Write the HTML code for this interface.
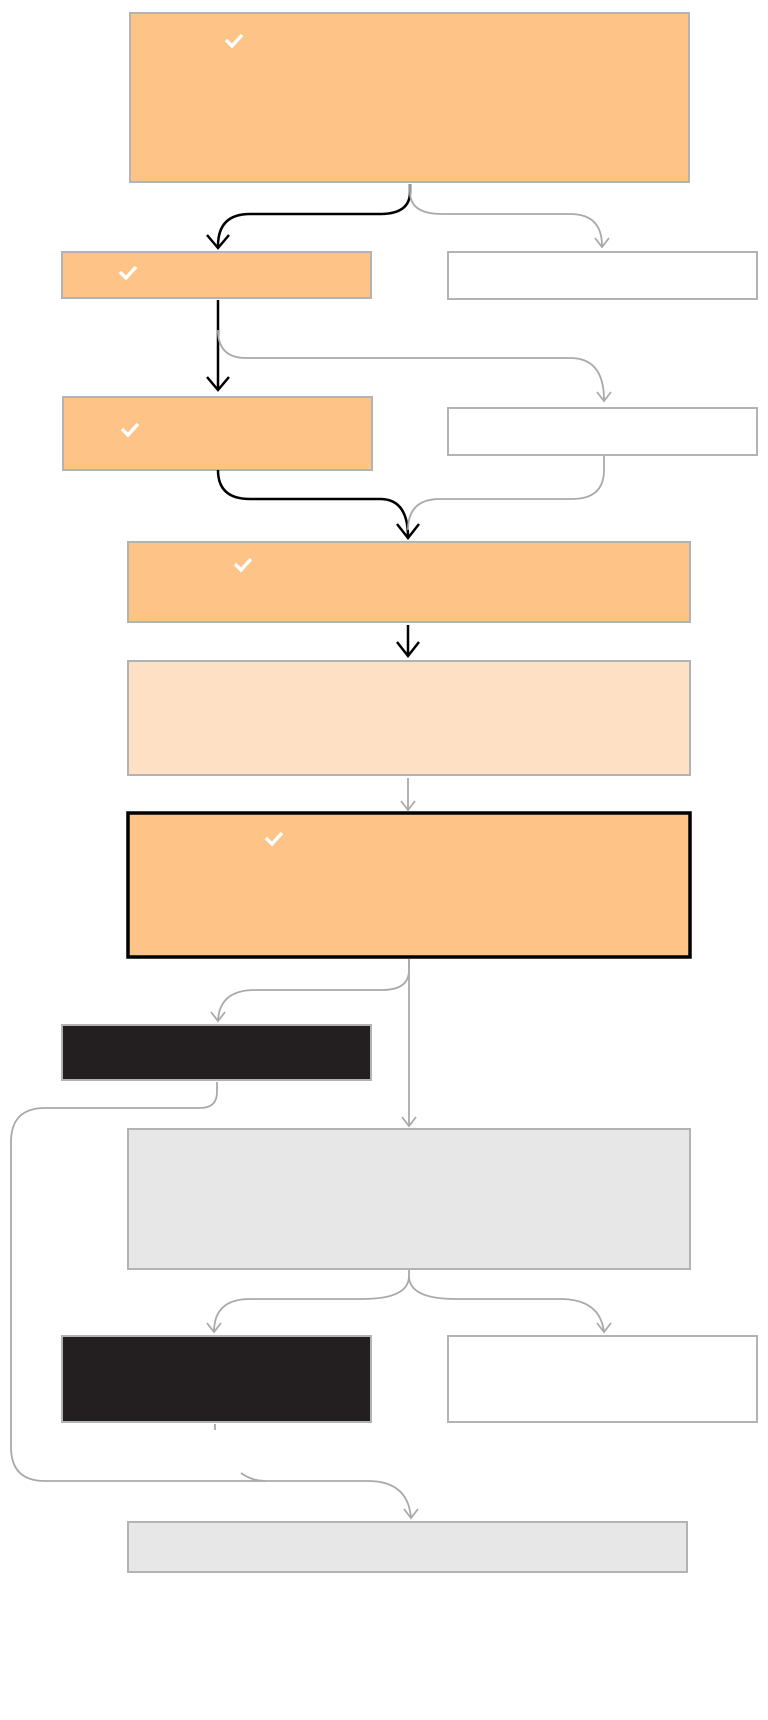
<!DOCTYPE html>
<html><head><meta charset="utf-8"><style>
html,body{margin:0;padding:0;background:#fff;width:768px;height:1720px;overflow:hidden}
</style></head><body>
<svg width="768" height="1720" viewBox="0 0 768 1720" xmlns="http://www.w3.org/2000/svg">
<g stroke="#b3b3b3" stroke-width="2">
<rect x="130" y="13" width="559" height="169" fill="#fdc387"/>
<rect x="62" y="252" width="309" height="46" fill="#fdc387"/>
<rect x="448" y="252" width="309" height="47" fill="#fff"/>
<rect x="63" y="397" width="309" height="73" fill="#fdc387"/>
<rect x="448" y="408" width="309" height="47" fill="#fff"/>
<rect x="128" y="542" width="562" height="80" fill="#fdc387"/>
<rect x="128" y="661" width="562" height="114" fill="#fee1c4"/>
<rect x="62" y="1025" width="309" height="55" fill="#231f20"/>
<rect x="128" y="1129" width="562" height="140" fill="#e7e7e7"/>
<rect x="62" y="1336" width="309" height="86" fill="#231f20"/>
<rect x="448" y="1336" width="309" height="86" fill="#fff"/>
<rect x="128" y="1522" width="559" height="50" fill="#e7e7e7"/>
</g>
<rect x="128" y="813" width="562" height="144" fill="#fdc387" stroke="#000" stroke-width="3.5"/>
<g fill="none" stroke="#fff" stroke-width="3.5">
<path d="M226 40 l6 6 l10 -11"/>
<path d="M120 272 l6 6 l10 -11"/>
<path d="M122 429 l6 6 l10 -11"/>
<path d="M235 564 l6 6 l10 -11"/>
<path d="M266 838 l6 6 l10 -11"/>
</g>
<g fill="none" stroke="#000" stroke-width="2.5">
<path d="M410 184 V192 Q410 214 380 214 H250 Q218 214 218 246"/>
<path d="M207 235 L218 248 L229 235"/>
<path d="M218 300 V390"/>
<path d="M207 377 L218 390 L229 377"/>
<path d="M218 470 Q218 499 250 499 H380 Q408 499 408 537"/>
<path d="M397 524 L408 538 L419 524"/>
<path d="M408 625 V655"/>
<path d="M397 642 L408 656 L419 642"/>
</g>
<g fill="none" stroke="#aaa" stroke-width="1.8">
<path d="M410 184 V192 Q410 214 442 214 H570 Q602 214 602 246"/>
<path d="M595 238 L602 247 L609 238"/>
<path d="M218 330 Q218 358 246 358 H570 Q604 358 604 400"/>
<path d="M597 392 L604 401 L611 392"/>
<path d="M604 456 V470 Q604 499 572 499 H440 Q408 499 408 530"/>
<path d="M408 778 V810"/>
<path d="M401 801 L408 810 L415 801"/>
<path d="M409 959 V970 Q409 990 382 990 H255 Q220 990 218 1020"/>
<path d="M211 1012 L218 1021 L225 1012"/>
<path d="M409 959 V1126"/>
<path d="M402 1117 L409 1126 L416 1117"/>
<path d="M217 1082 V1092 Q217 1108 200 1108 H45 Q11 1108 11 1142 V1447 Q11 1481 45 1481 H368 Q408 1481 411 1518"/>
<path d="M404 1509 L411 1518 L418 1509"/>
<path d="M241 1473 Q252 1481 265 1481"/>
<path d="M215 1424 V1430"/>
<path d="M409 1270 V1276 Q409 1299 362 1299 H250 Q214 1299 214 1332"/>
<path d="M207 1323 L214 1332 L221 1323"/>
<path d="M409 1276 Q409 1299 456 1299 H560 Q600 1299 604 1332"/>
<path d="M597 1323 L604 1332 L611 1323"/>
</g>
</svg>
</body></html>
